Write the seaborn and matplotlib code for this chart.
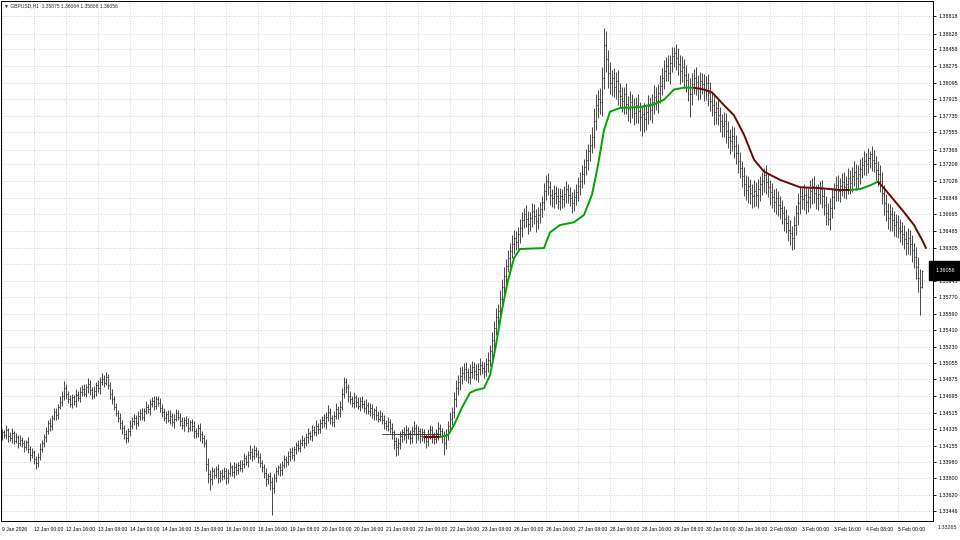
import numpy as np
import pandas as pd
import matplotlib
matplotlib.use("Agg")
import matplotlib.pyplot as plt
import matplotlib.transforms as mtransforms
import seaborn as sns

# ---------------------------------------------------------------
# data (GBPUSD, H1)
# ---------------------------------------------------------------
symbol_title = "GBPUSD,H1"
last_ohlc = ["1.35875", "1.36064", "1.35808", "1.36056"]
first_open = 1.3427

close = [
    1.3430, 1.3427, 1.3433, 1.3426, 1.3424, 1.3429, 1.3421, 1.3425, 1.3419, 1.3422,
    1.3418, 1.3414, 1.3420, 1.3412, 1.3405, 1.3409, 1.3401, 1.3397, 1.3403, 1.3412,
    1.3418, 1.3425, 1.3431, 1.3440, 1.3437, 1.3446, 1.3452, 1.3449, 1.3458, 1.3463,
    1.3470, 1.3478, 1.3472, 1.3466, 1.3461, 1.3468, 1.3464, 1.3471, 1.3467, 1.3474,
    1.3477, 1.3472, 1.3479, 1.3483, 1.3476, 1.3470, 1.3475, 1.3481, 1.3478, 1.3485,
    1.3488, 1.3484, 1.3490, 1.3481, 1.3472, 1.3466, 1.3458, 1.3451, 1.3446, 1.3440,
    1.3435, 1.3428, 1.3424, 1.3431, 1.3437, 1.3442, 1.3446, 1.3440, 1.3448, 1.3451,
    1.3447, 1.3453, 1.3458, 1.3455, 1.3461, 1.3464, 1.3459, 1.3466, 1.3462, 1.3457,
    1.3452, 1.3446, 1.3450, 1.3444, 1.3448, 1.3441, 1.3445, 1.3451, 1.3447, 1.3442,
    1.3438, 1.3444, 1.3440, 1.3435, 1.3441, 1.3437, 1.3432, 1.3429, 1.3435, 1.3428,
    1.3424, 1.3418, 1.3396, 1.3385, 1.3379, 1.3388, 1.3384, 1.3390, 1.3381, 1.3386,
    1.3383, 1.3388, 1.3380, 1.3386, 1.3392, 1.3387, 1.3393, 1.3389, 1.3395, 1.3391,
    1.3396, 1.3402, 1.3398, 1.3405, 1.3409, 1.3404, 1.3411, 1.3407, 1.3403, 1.3397,
    1.3392, 1.3386, 1.3379, 1.3383, 1.3376, 1.3370, 1.3381, 1.3388, 1.3392, 1.3389,
    1.3395, 1.3401, 1.3398, 1.3404, 1.3409, 1.3405, 1.3412, 1.3416, 1.3413, 1.3419,
    1.3422, 1.3418, 1.3425, 1.3429, 1.3426, 1.3433, 1.3430, 1.3437, 1.3434, 1.3440,
    1.3444, 1.3440, 1.3447, 1.3452, 1.3446, 1.3441, 1.3448, 1.3455, 1.3451, 1.3458,
    1.3472, 1.3485, 1.3479, 1.3470, 1.3466, 1.3462, 1.3468, 1.3463, 1.3459, 1.3464,
    1.3461, 1.3456, 1.3460, 1.3453, 1.3457, 1.3450, 1.3454, 1.3449, 1.3445, 1.3448,
    1.3444, 1.3440, 1.3437, 1.3441, 1.3435, 1.3430, 1.3421, 1.3414, 1.3418, 1.3426,
    1.3430, 1.3427, 1.3433, 1.3429, 1.3424, 1.3431, 1.3435, 1.3428, 1.3432, 1.3426,
    1.3430, 1.3425, 1.3421, 1.3428, 1.3433, 1.3427, 1.3423, 1.3429, 1.3435, 1.3431,
    1.3426, 1.3419, 1.3428, 1.3437, 1.3445, 1.3452, 1.3466, 1.3478, 1.3485, 1.3491,
    1.3494, 1.3499, 1.3495, 1.3490, 1.3496, 1.3501, 1.3497, 1.3493, 1.3499, 1.3503,
    1.3500, 1.3497, 1.3504, 1.3509, 1.3518, 1.3530, 1.3543, 1.3555, 1.3562, 1.3575,
    1.3588, 1.3600, 1.3611, 1.3619, 1.3627, 1.3634, 1.3641, 1.3637, 1.3645, 1.3652,
    1.3660, 1.3667, 1.3662, 1.3656, 1.3663, 1.3670, 1.3665, 1.3659, 1.3666, 1.3672,
    1.3680, 1.3692, 1.3703, 1.3696, 1.3688, 1.3684, 1.3690, 1.3686, 1.3681, 1.3687,
    1.3683, 1.3689, 1.3694, 1.3688, 1.3684, 1.3679, 1.3685, 1.3691, 1.3697, 1.3703,
    1.3710, 1.3718, 1.3726, 1.3735, 1.3742, 1.3751, 1.3768, 1.3785, 1.3792, 1.3788,
    1.3815, 1.3850, 1.3835, 1.3820, 1.3809, 1.3814, 1.3805, 1.3811, 1.3800, 1.3795,
    1.3790, 1.3797, 1.3786, 1.3781, 1.3789, 1.3783, 1.3777, 1.3785, 1.3779, 1.3772,
    1.3776, 1.3770, 1.3778, 1.3784, 1.3780, 1.3788, 1.3794, 1.3790, 1.3798, 1.3806,
    1.3815, 1.3822, 1.3828, 1.3820, 1.3831, 1.3838, 1.3842, 1.3836, 1.3830, 1.3822,
    1.3826, 1.3818, 1.3812, 1.3805, 1.3797, 1.3808, 1.3815, 1.3810, 1.3804, 1.3811,
    1.3808, 1.3803, 1.3809, 1.3798, 1.3790, 1.3785, 1.3778, 1.3782, 1.3774, 1.3768,
    1.3762, 1.3768, 1.3757, 1.3751, 1.3746, 1.3752, 1.3741, 1.3733, 1.3725, 1.3717,
    1.3708, 1.3700, 1.3693, 1.3697, 1.3690, 1.3686, 1.3692, 1.3688, 1.3694, 1.3699,
    1.3703, 1.3709, 1.3702, 1.3696, 1.3691, 1.3685, 1.3680, 1.3684, 1.3677, 1.3673,
    1.3668, 1.3662, 1.3657, 1.3650, 1.3646, 1.3641, 1.3655, 1.3668, 1.3679, 1.3686,
    1.3683, 1.3688, 1.3680, 1.3685, 1.3692, 1.3697, 1.3690, 1.3684, 1.3689, 1.3694,
    1.3686, 1.3677, 1.3668, 1.3662, 1.3674, 1.3685, 1.3693, 1.3698, 1.3692, 1.3697,
    1.3702, 1.3696, 1.3700, 1.3706, 1.3701, 1.3708, 1.3712, 1.3706, 1.3710, 1.3716,
    1.3720, 1.3725, 1.3721, 1.3728, 1.3732, 1.3726, 1.3722, 1.3715, 1.3710, 1.3703,
    1.3690, 1.3679, 1.3670, 1.3663, 1.3667, 1.3660, 1.3655, 1.3658, 1.3652, 1.3649,
    1.3645, 1.3640, 1.3636, 1.3641, 1.3634, 1.3628, 1.3620, 1.3610, 1.3598, 1.35875,
    1.36056,
]

# wick lengths above / below the bar body, in pips
wick_up = [
    4, 3, 5, 2, 4, 6, 3, 4, 2, 5,   3, 4, 2, 5, 3, 4, 2, 3, 5, 6,
    4, 3, 5, 4, 6, 3, 5, 4, 3, 6,   5, 8, 4, 3, 5, 4, 3, 6, 4, 5,
    4, 5, 3, 6, 4, 3, 5, 4, 6, 5,   6, 4, 5, 3, 4, 5, 3, 4, 3, 5,
    4, 3, 5, 4, 6, 5, 4, 3, 5, 4,   5, 4, 6, 3, 5, 4, 6, 4, 3, 5,
    4, 5, 3, 4, 6, 3, 5, 4, 3, 4,   5, 3, 4, 6, 3, 4, 5, 3, 4, 5,
    4, 3, 5, 6, 4, 5, 3, 4, 6, 3,   4, 5, 3, 4, 6, 3, 5, 4, 3, 5,
    4, 6, 3, 5, 7, 4, 5, 3, 4, 5,   3, 4, 5, 3, 4, 6, 5, 4, 3, 5,
    4, 5, 3, 6, 4, 5, 3, 4, 6, 4,   5, 3, 4, 6, 3, 5, 4, 6, 3, 5,
    4, 6, 5, 8, 4, 3, 5, 7, 4, 6,   6, 5, 4, 3, 5, 4, 6, 3, 5, 4,
    5, 4, 6, 3, 5, 4, 3, 5, 4, 6,   4, 5, 3, 6, 4, 5, 3, 4, 6, 5,
    4, 6, 5, 3, 4, 6, 7, 4, 5, 3,   5, 4, 3, 6, 5, 4, 3, 5, 6, 4,
    4, 5, 6, 5, 7, 6, 8, 9, 7, 10,  8, 6, 7, 5, 8, 6, 5, 7, 6, 8,
    5, 6, 7, 8, 7, 9, 8, 10, 7, 9,  8, 10, 7, 9, 8, 10, 9, 7, 8, 10,
    9, 7, 10, 8, 6, 9, 8, 7, 9, 8,  7, 9, 6, 8, 7, 6, 8, 7, 9, 8,
    7, 8, 9, 6, 8, 7, 9, 8, 10, 9,  10, 9, 11, 8, 12, 10, 14, 12, 10, 12,
    12, 19, 15, 10, 12, 9, 11, 10, 12, 9,  10, 8, 12, 9, 11, 8, 10, 9, 12, 10,
    9, 11, 8, 12, 10, 9, 13, 11, 10, 12,   10, 12, 9, 11, 8, 10, 6, 9, 11, 10,
    12, 9, 11, 8, 10, 12, 9, 11, 8, 10,    9, 11, 8, 10, 12, 9, 11, 8, 10, 9,
    8, 10, 9, 11, 8, 10, 9, 12, 10, 9,     8, 10, 9, 11, 8, 9, 12, 10, 11, 9,
    10, 8, 11, 9, 8, 10, 9, 11, 8, 10,     9, 8, 10, 9, 11, 8, 10, 9, 11, 10,
    9, 11, 8, 10, 12, 9, 11, 8, 10, 9,     10, 8, 9, 11, 10, 9, 8, 10, 11, 9,
    9, 10, 8, 11, 9, 10, 12, 9, 10, 11,    9, 10, 8, 11, 3, 9, 10, 8, 9, 10,
    9, 8, 10, 9, 11, 8, 10, 9, 8, 10,      9, 10, 8, 11, 9, 10, 8, 11, 10, 9,
    0.8,
]

wick_dn = [
    5, 3, 4, 6, 3, 5, 4, 3, 6, 4,   4, 5, 3, 4, 6, 3, 5, 7, 4, 3,
    3, 4, 5, 3, 6, 4, 3, 5, 4, 3,   4, 5, 6, 4, 3, 5, 4, 6, 3, 4,
    5, 3, 4, 6, 5, 4, 3, 5, 4, 6,   4, 5, 3, 4, 6, 5, 4, 3, 5, 6,
    7, 5, 6, 4, 5, 3, 4, 6, 3, 4,   4, 5, 3, 4, 6, 3, 5, 4, 3, 5,
    5, 4, 6, 3, 5, 4, 6, 3, 4, 5,   4, 6, 3, 5, 4, 6, 8, 5, 4, 7,
    5, 4, 8, 10, 12, 6, 5, 4, 6, 5, 5, 4, 6, 5, 3, 4, 6, 5, 4, 3,
    4, 5, 3, 6, 4, 5, 3, 4, 6, 5,   5, 6, 7, 5, 8, 30, 6, 5, 4, 6,
    5, 4, 6, 3, 5, 4, 6, 5, 3, 4,   4, 5, 3, 6, 4, 5, 3, 4, 6, 5,
    5, 4, 6, 5, 7, 4, 5, 3, 6, 4,   4, 5, 6, 7, 5, 4, 6, 5, 4, 6,
    5, 4, 6, 3, 5, 4, 6, 5, 4, 3,   5, 6, 4, 5, 6, 7, 9, 10, 8, 6,
    6, 5, 8, 6, 7, 5, 4, 9, 6, 7,   5, 7, 8, 6, 5, 9, 6, 5, 7, 6,
    8, 13, 7, 6, 5, 7, 6, 8, 7, 9,  8, 7, 9, 6, 8, 7, 9, 6, 8, 7,
    7, 8, 6, 9, 7, 8, 9, 7, 8, 9,   9, 8, 10, 7, 9, 8, 10, 9, 8, 9,
    10, 8, 9, 11, 8, 10, 9, 12, 8, 9,  8, 9, 10, 8, 11, 9, 10, 8, 9, 10,
    9, 8, 10, 9, 8, 11, 9, 8, 10, 9,   8, 10, 9, 11, 10, 9, 12, 10, 14, 12,
    15, 12, 14, 16, 12, 14, 11, 13, 15, 12,  12, 14, 11, 13, 15, 12, 14, 11, 13, 15,
    20, 14, 12, 13, 11, 14, 12, 10, 13, 11,  10, 12, 11, 9, 12, 10, 11, 13, 12, 14,
    12, 14, 13, 15, 25, 12, 11, 14, 13, 12,  11, 13, 12, 14, 11, 12, 14, 13, 11, 12,
    12, 11, 13, 12, 14, 11, 13, 12, 14, 11,  12, 13, 11, 14, 12, 13, 11, 12, 14, 13,
    11, 12, 13, 11, 14, 12, 11, 13, 12, 11,  12, 13, 11, 12, 13, 13, 12, 11, 13, 12,
    11, 12, 13, 11, 12, 14, 11, 12, 13, 11,  12, 11, 13, 7, 12, 11, 13, 12, 11, 12,
    11, 12, 13, 11, 12, 10, 11, 13, 12, 11,  10, 11, 12, 10, 11, 12, 10, 11, 13, 12,
    12, 13, 11, 12, 14, 11, 12, 13, 11, 12,  12, 11, 13, 12, 11, 13, 12, 14, 16, 30,
    0.67,
]

# trailing line of the indicator: points per segment
trend_bar = [211, 219,
             219, 223, 226, 230, 234, 237, 241, 244, 247, 250, 253, 256, 259, 271,
             274, 279, 286, 291, 295, 298, 301, 304, 309, 319, 326, 331, 336, 341, 346,
             346, 351, 355, 361, 366, 371, 376, 381, 389, 394, 399, 409, 419, 424,
             424, 429, 434, 438,
             438, 441, 446, 451, 456, 460, 462]
trend_price = [1.3425, 1.3425,
               1.3425, 1.3427, 1.3438, 1.3457, 1.3473, 1.3476, 1.3478, 1.3492, 1.3525,
               1.3563, 1.3595, 1.3619, 1.3629, 1.3630, 1.3647, 1.3655, 1.3658, 1.3666,
               1.3688, 1.3720, 1.3758, 1.3778, 1.3782, 1.3783, 1.3786, 1.3791, 1.3802,
               1.3804, 1.3804,
               1.3804, 1.3802, 1.3799, 1.3785, 1.3774, 1.3753, 1.3726, 1.3713, 1.3704,
               1.3700, 1.3696, 1.3695, 1.3693, 1.3693,
               1.3693, 1.3694, 1.3698, 1.3702,
               1.3702, 1.3695, 1.3682, 1.3669, 1.3655, 1.3639, 1.3630]
trend_seg = [0] * 2 + [1] * 29 + [2] * 14 + [3] * 4 + [4] * 7
seg_color = {0: "#7a0000", 1: "#00a400", 2: "#6a0808", 3: "#00a400", 4: "#6a0808"}

thin_bar = [190, 219]
thin_price = [1.3428, 1.3428]

x_labels = ["9 Jan 2026", "12 Jan 00:00", "12 Jan 16:00", "13 Jan 08:00", "14 Jan 00:00",
            "14 Jan 16:00", "15 Jan 08:00", "16 Jan 00:00", "16 Jan 16:00", "19 Jan 08:00",
            "20 Jan 00:00", "20 Jan 16:00", "21 Jan 08:00", "22 Jan 00:00", "22 Jan 16:00",
            "23 Jan 08:00", "26 Jan 00:00", "26 Jan 16:00", "27 Jan 08:00", "28 Jan 00:00",
            "28 Jan 16:00", "29 Jan 08:00", "30 Jan 00:00", "30 Jan 16:00", "2 Feb 08:00",
            "3 Feb 00:00", "3 Feb 16:00", "4 Feb 08:00", "5 Feb 00:00"]
bars_per_label = 16

y_labels = ["1.38818", "1.38628", "1.38458", "1.38275", "1.38095", "1.37915", "1.37735",
            "1.37555", "1.37368", "1.37208", "1.37028", "1.36848", "1.36665", "1.36485",
            "1.36305", "1.36125", "1.35945", "1.35770", "1.35590", "1.35410", "1.35230",
            "1.35055", "1.34875", "1.34695", "1.34515", "1.34335", "1.34155", "1.33980",
            "1.33800", "1.33620", "1.33446", "1.33265"]

# ---------------------------------------------------------------
# build OHLC table
# ---------------------------------------------------------------
c = np.array(close)
o = np.concatenate([[first_open], c[:-1]])
o[-1] = float(last_ohlc[0])
h = np.maximum(o, c) + np.array(wick_up) / 10000
l = np.minimum(o, c) - np.array(wick_dn) / 10000
df = pd.DataFrame({"bar": np.arange(len(c)), "open": o, "high": h, "low": l, "close": c})

trend = pd.DataFrame({"bar": trend_bar, "price": trend_price, "seg": trend_seg})

# ---------------------------------------------------------------
# plot
# ---------------------------------------------------------------
sns.set_style("white")
plt.rcParams["font.family"] = ["Liberation Sans", "DejaVu Sans"]
fs_x = 3.6
fs_y = 3.9

fig = plt.figure(figsize=(9.6, 5.4), dpi=100)
ax = fig.add_axes([1 / 960, 19 / 540, 932 / 960, 520 / 540])

y_top = 1.38818 + 15 * 0.0001085
y_bot = 1.38818 - 505 * 0.0001085
ax.set_xlim(-0.5, 465.5)
ax.set_ylim(y_bot, y_top)

bar_col = "#2a2a2a"
ax.vlines(df["bar"], df["low"], df["high"], color=bar_col, lw=0.6)
ax.hlines(df["open"], df["bar"] - 0.7, df["bar"], color=bar_col, lw=0.5)
ax.hlines(df["close"], df["bar"], df["bar"] + 0.7, color=bar_col, lw=0.5)

ax.plot(thin_bar, thin_price, color="#303030", lw=0.6)
sns.lineplot(data=trend, x="bar", y="price", hue="seg", palette=seg_color,
             legend=False, lw=1.4, sort=False, estimator=None, ax=ax)

# grid and axes
xt = np.arange(len(x_labels)) * bars_per_label
ax.set_xticks(xt)
ax.set_xticklabels(x_labels)
for t in ax.get_xticklabels():
    t.set_ha("left")
yt = [float(v) for v in y_labels]
ax.set_yticks(yt[:-1])
ax.set_yticklabels(y_labels[:-1])
ax.yaxis.tick_right()
ax.tick_params(axis="x", direction="out", length=2.5, width=0.6, labelsize=fs_x, pad=1.5, colors="black")
ax.tick_params(axis="y", direction="out", length=2.5, width=0.6, labelsize=fs_y, pad=1.5, colors="black")
ax.grid(True, color="#c4c4c4", lw=0.6, linestyle=(0, (1, 2)))
ax.set_xlabel("")
ax.set_ylabel("")
for s in ax.spines.values():
    s.set_color("black")
    s.set_linewidth(0.7)

# lowest price label sits below the chart window
trans = mtransforms.blended_transform_factory(ax.transAxes, ax.transData)
ax.text(1.005, yt[-1], y_labels[-1], transform=trans, fontsize=fs_y, va="center",
        ha="left", clip_on=False)

# current price box
ax.text(1.003, c[-1], last_ohlc[3], transform=trans, fontsize=fs_y, va="center", ha="left",
        color="white", clip_on=False,
        bbox=dict(facecolor="black", edgecolor="black", pad=1.3, boxstyle="square"))

fig.text(4 / 960, 1 - 6 / 540, "\u25bc " + symbol_title + "  " + " ".join(last_ohlc),
         fontsize=fs_x, va="center", ha="left")

fig.savefig("out.png", dpi=100, facecolor="white")
